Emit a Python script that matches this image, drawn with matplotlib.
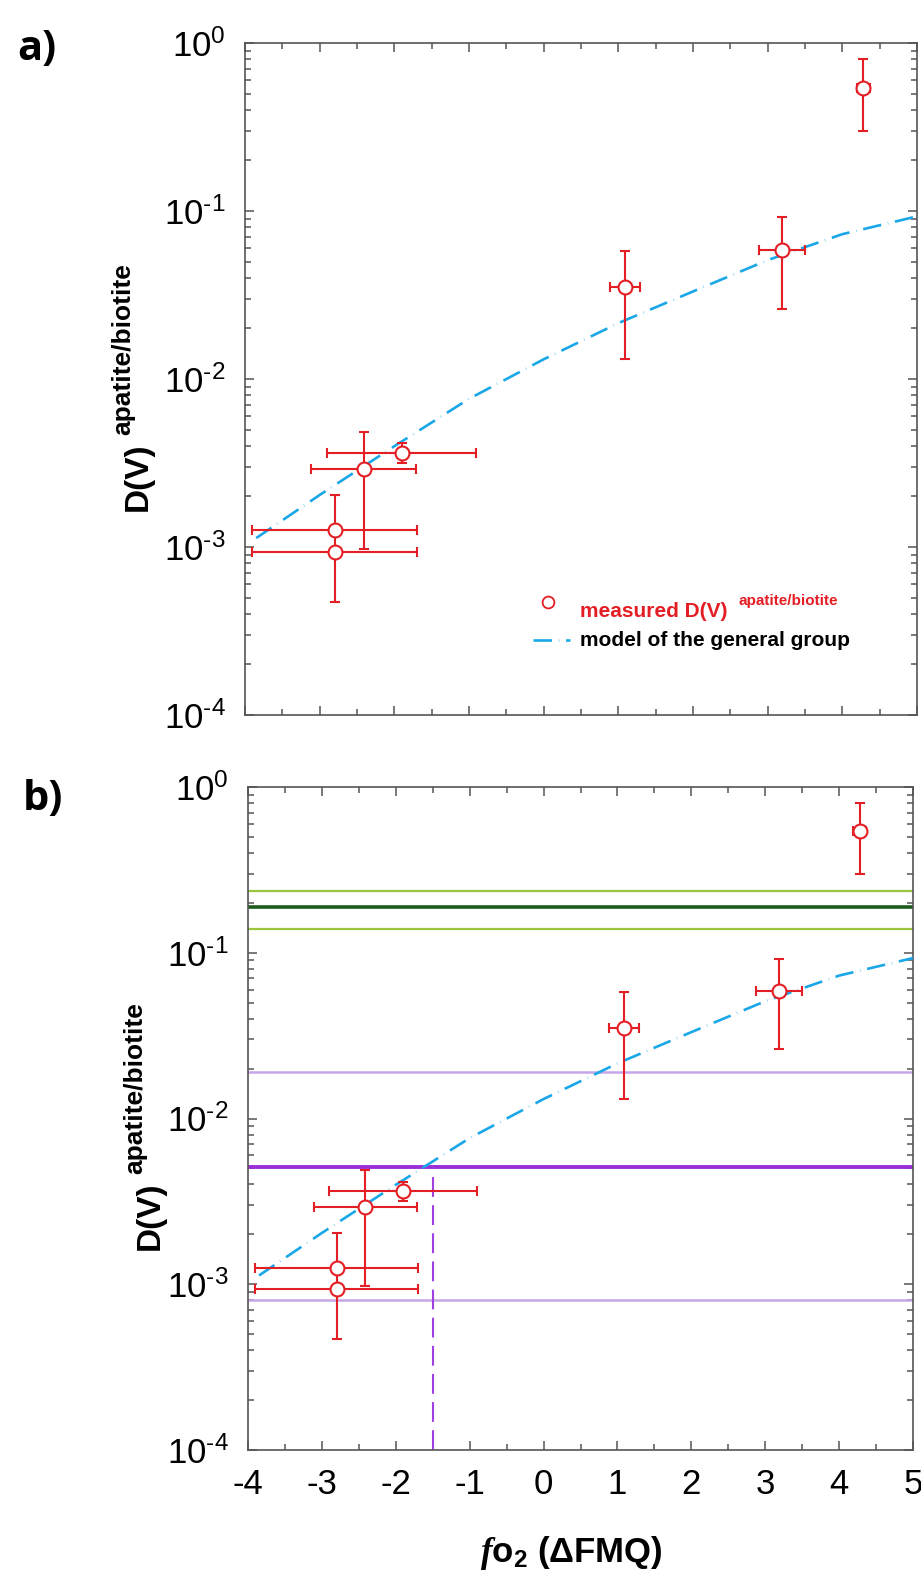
import numpy as np
import matplotlib
matplotlib.use('Agg')
import matplotlib.pyplot as plt
from matplotlib.lines import Line2D
from matplotlib.ticker import LogLocator, MultipleLocator, NullFormatter, FuncFormatter

plt.rcParams['font.family'] = ['Liberation Sans', 'DejaVu Sans']
plt.rcParams['axes.unicode_minus'] = False
plt.rcParams['mathtext.fontset'] = 'custom'
plt.rcParams['mathtext.rm'] = 'Liberation Sans'
plt.rcParams['mathtext.it'] = 'Liberation Serif:italic:bold'
plt.rcParams['mathtext.bf'] = 'Liberation Sans:bold'

# ---------------- data ----------------
fo2 = [-2.80, -2.80, -2.41, -1.90, 1.09, 3.19, 4.28]
fo2_err = [1.10, 1.10, 0.70, 1.00, 0.20, 0.31, 0.09]
D_meas = [1.26e-3, 0.94e-3, 2.91e-3, 3.63e-3, 0.0353, 0.0587, 0.54]
D_low = [1.18e-3, 4.7e-4, 0.97e-3, 3.17e-3, 0.0131, 0.0262, 0.30]
D_high = [2.05e-3, 1.20e-3, 4.86e-3, 4.15e-3, 0.058, 0.092, 0.80]

model_fo2 = [-3.85, -3, -2, -1, 0, 1, 2, 3, 4, 5]
model_D = [1.13e-3, 2.04e-3, 3.98e-3, 7.62e-3, 1.31e-2, 2.15e-2, 3.32e-2, 5.1e-2, 7.28e-2, 9.29e-2]

green_center = 0.188
green_band = [0.139, 0.237]
purple_center = 5.13e-3
purple_band = [8.0e-4, 0.019]
fo2_cross = -1.5

x_ticks = [-4, -3, -2, -1, 0, 1, 2, 3, 4, 5]

RED = '#e41e25'
BLUE = '#1aa7e8'
SPINE = '#555555'
MODEL_DASH = (7, 2.6, 0.15, 2.6)

W, H = 921, 1581
fig = plt.figure(figsize=(W / 100, H / 100), dpi=100)


def fx(px):
    return px / W


def fy(py):
    return 1 - py / H


def log_fmt(v, pos):
    e = int(round(np.log10(v)))
    if e < 0:
        return r'$\mathdefault{10^{\text{-}%d}}$' % (-e)
    return r'$\mathdefault{10^{%d}}$' % e


ax1 = fig.add_axes([fx(245), fy(715), 672 / W, 672 / H])
ax2 = fig.add_axes([fx(248), fy(1450), 665 / W, 663 / H])

for ax in (ax1, ax2):
    ax.set_yscale('log')
    ax.set_xlim(-4, 5)
    ax.set_ylim(1e-4, 1)
    ax.set_xticks(x_ticks)
    ax.xaxis.set_minor_locator(MultipleLocator(0.5))
    ax.yaxis.set_major_locator(LogLocator(base=10, numticks=10))
    ax.yaxis.set_major_formatter(FuncFormatter(log_fmt))
    ax.yaxis.set_minor_locator(LogLocator(base=10, subs=np.arange(2, 10), numticks=20))
    ax.yaxis.set_minor_formatter(NullFormatter())
    ax.tick_params(which='both', direction='in', top=True, right=True,
                   width=1.1, color=SPINE, labelsize=25, pad=14)
    ax.tick_params(which='major', length=6.5)
    ax.tick_params(which='minor', length=4)
    for s in ax.spines.values():
        s.set_color(SPINE)
        s.set_linewidth(1.2)

    yerr = [np.subtract(D_meas, D_low), np.subtract(D_high, D_meas)]
    ax.plot(model_fo2, model_D, color=BLUE, lw=1.9, dashes=MODEL_DASH, zorder=3)
    ax.errorbar(fo2, D_meas, yerr=yerr, xerr=fo2_err, fmt='o', mfc='white', mec=RED,
                mew=1.5, ms=10, ecolor=RED, elinewidth=1.5, capsize=3.3, capthick=1.5,
                zorder=5)

ax1.tick_params(labelbottom=False)
ax2.tick_params(axis='x', pad=13)

# panel b reference lines
for y in green_band:
    ax2.axhline(y, color='#9cc43c', lw=1.6, zorder=2)
ax2.axhline(green_center, color='#1d5a1d', lw=2.6, zorder=2)
for y in purple_band:
    ax2.axhline(y, color='#c6a6e8', lw=1.8, zorder=2)
ax2.axhline(purple_center, color='#9a2fd8', lw=2.8, zorder=2)
ax2.plot([fo2_cross, fo2_cross], [1e-4, purple_center], color='#a040e0', lw=1.5,
         dashes=(9.5, 4), zorder=2)

# legend (panel a)
fig.add_artist(Line2D([fx(548)], [fy(602)], marker='o', ms=8.5, mfc='white', mec=RED,
                      mew=1.3, transform=fig.transFigure))
fig.text(fx(580), fy(617), 'measured D(V)', color=RED, weight='bold', size=15, va='baseline')
fig.text(fx(738), fy(605), 'apatite/biotite', color=RED, weight='bold', size=11, va='baseline')
fig.add_artist(Line2D([fx(533), fx(570)], [fy(640), fy(640)], color=BLUE, lw=1.9,
                      dashes=MODEL_DASH, transform=fig.transFigure))
fig.text(fx(580), fy(646), 'model of the general group', color='black', weight='bold',
         size=15, va='baseline')

# y labels
for (xd, yd, xs, ys) in [(138, 477, 123, 435), (150, 1216, 135, 1174)]:
    fig.text(fx(xd), fy(yd), 'D(V)', rotation=90, ha='center', va='center',
             weight='bold', size=24)
    fig.text(fx(xs), fy(ys), 'apatite/biotite', rotation=90, ha='center', va='bottom',
             weight='bold', size=19)

# x label
fig.text(fx(571), fy(1553), r'$\mathit{f}$o$_{\mathbf{2}}$ (ΔFMQ)', ha='center', va='center',
         weight='bold', size=25)

# panel letters
fig.text(fx(37), fy(49), 'a)', ha='center', va='center', weight='bold', size=30,
         family=['Open Sans', 'DejaVu Sans'])
fig.text(fx(43), fy(800), 'b)', ha='center', va='center', weight='bold', size=30,
         family=['Open Sans', 'DejaVu Sans'])

fig.savefig('out.png', dpi=100, facecolor='white')
